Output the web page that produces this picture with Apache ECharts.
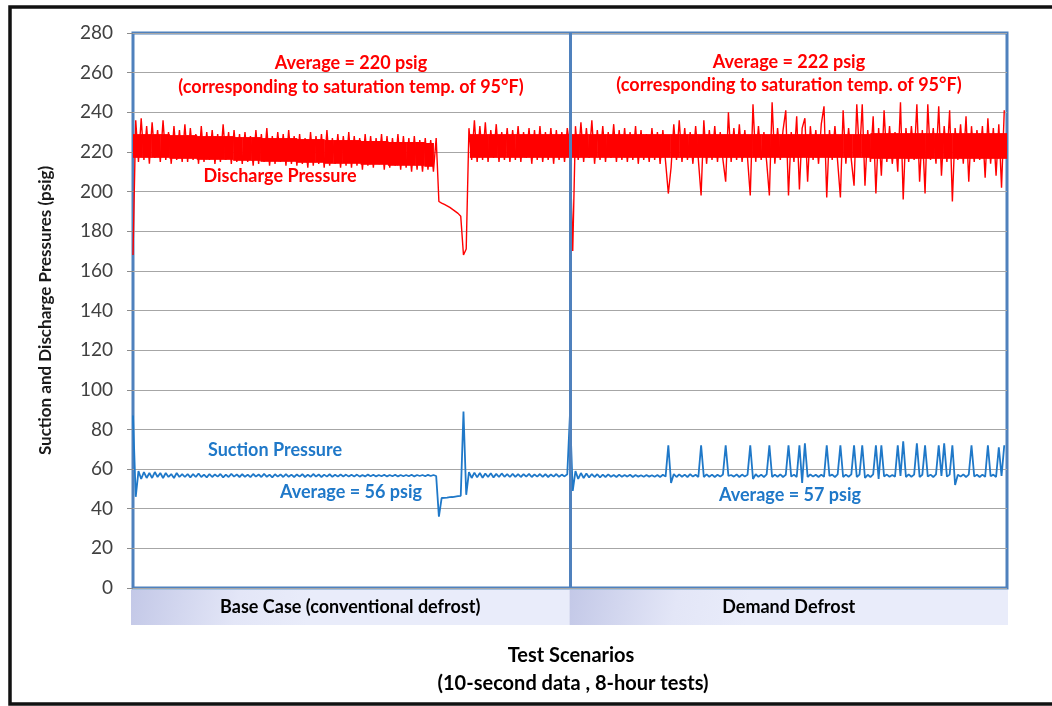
<!DOCTYPE html>
<html>
<head>
<meta charset="utf-8">
<title>Suction and Discharge Pressures</title>
<script src="https://cdn.jsdelivr.net/npm/echarts/dist/echarts.min.js"></script>
<style>
  html, body { margin: 0; padding: 0; background: #fff; }
  #main { width: 1052px; height: 706px; }
</style>
</head>
<body>
<div id="main"></div>
<script>
  // 3-minute samples (20 per hour), 8-hour tests
  const stepsPerHour = 20;
  const coreStepsPerHour = 6; // 10-minute steps for the dense part of the discharge band
  const testHours = 8;
  const scenarios = ['Base Case (conventional defrost)', 'Demand Defrost'];
  const yTicks = [0, 20, 40, 60, 80, 100, 120, 140, 160, 180, 200, 220, 240, 260, 280];

  // discharge pressure, psig
  const baseDischarge = [
    168, 236, 215, 237, 216, 233, 214, 235, 217, 231, 215, 236, 216, 230, 214, 233, 216, 231, 215, 234,
    215, 232, 216, 229, 214, 233, 215, 230, 216, 231, 214, 229, 215, 234, 216, 230, 214, 231, 215, 229,
    214, 230, 215, 228, 213, 231, 214, 229, 215, 232, 213, 228, 214, 230, 215, 229, 213, 231, 214, 228,
    213, 229, 214, 227, 212, 230, 213, 228, 214, 229, 212, 231, 213, 227, 214, 229, 212, 228, 213, 230,
    212, 228, 213, 227, 211, 229, 213, 228, 212, 227, 214, 229, 211, 228, 212, 227, 213, 229, 211, 228,
    212, 227, 210, 228, 211, 226, 210, 227, 211, 226, 210, 227, 195, 194.2, 193.5, 192.8, 192, 191, 190, 189,
    187.5, 168, 171, 232, 216, 236, 215, 233, 216, 235, 215, 231, 217, 234, 215, 230, 216, 232, 215, 231,
    216, 233, 215, 230, 217, 232, 214, 231, 216, 233, 215, 230, 216, 232, 214, 231, 216, 230, 215, 232
  ];
  const demandDischarge = [
    222, 170, 233, 216, 235, 215, 232, 217, 236, 214, 231, 216, 233, 215, 230, 217, 234, 215, 231, 216,
    232, 215, 230, 216, 233, 214, 231, 216, 229, 215, 232, 216, 230, 214, 231, 215, 199, 212, 234, 216,
    236, 215, 232, 216, 230, 214, 233, 216, 198, 236, 214, 231, 216, 233, 215, 230, 216, 205, 240, 215,
    232, 216, 234, 215, 231, 217, 198, 244, 215, 233, 216, 230, 215, 198, 245, 214, 232, 216, 231, 241,
    198, 230, 215, 238, 201, 232, 237, 205, 233, 216, 231, 214, 234, 243, 197, 231, 216, 233, 215, 197,
    241, 214, 232, 216, 203, 244, 218, 244, 203, 231, 215, 238, 199, 232, 208, 241, 215, 233, 214, 230,
    210, 245, 196, 232, 215, 233, 216, 244, 205, 231, 199, 244, 216, 232, 214, 243, 208, 233, 215, 241,
    195, 232, 216, 234, 214, 238, 205, 233, 215, 231, 216, 233, 207, 237, 214, 232, 208, 234, 202, 241
  ];

  // solid middle of the discharge band (10-minute steps), null during the base-case defrost
  const baseCoreLow = [
    217, 217, 217, 217, 216.5, 216.5, 216.5, 216, 216, 216, 216, 215.5, 215.5, 215.5,
    215, 215, 215, 215, 214.5, 214.5, 214.5, 214, 214, 214, 214, 213.5, 213.5, 213.5,
    213, 213, 213, 213, 212.5, null, null, null, null,
    217, 217, 217, 217, 217, 217, 217, 217, 217, 217, 217
  ];
  const baseCoreHigh = [
    229, 229, 229, 229, 228.5, 228.5, 228.5, 228, 228, 228, 228, 227.5, 227.5, 227.5,
    227, 227, 227, 227, 226.5, 226.5, 226.5, 226, 226, 226, 226, 225.5, 225.5, 225.5,
    225, 225, 225, 225, 224.5, null, null, null, null,
    229, 229, 229, 229, 229, 229, 229, 229, 229, 229, 229
  ];
  const demandCoreLow = [
    217, 217, 217, 217, 217, 217, 217, 217, 217, 217, 217, 217, 217, 217, 217, 217, 217,
    217, 217, 217, 217, 217, 217, 217, 217, 217, 217, 217, 217, 217, 217, 217, 217,
    216.5, 216.5, 216.5, 216.5, 216.5, 216.5, 216.5, 216.5, 216.5, 216.5, 216.5, 216.5, 216.5, 216.5, 216.5
  ];
  const demandCoreHigh = [
    229, 229, 229, 229, 229, 229, 229, 229, 229, 229, 229, 229, 229, 229, 229, 229, 229,
    229, 229, 229, 229, 229, 229, 229, 229, 229, 229, 229, 229, 229, 229, 229, 229,
    229.5, 229.5, 229.5, 229.5, 229.5, 229.5, 229.5, 229.5, 229.5, 229.5, 229.5, 229.5, 229.5, 229.5, 229.5
  ];

  // suction pressure, psig
  const baseSuction = [
    87, 46, 59, 55, 58.5, 55.5, 58, 55.5, 58.5, 56, 58, 55.5, 58, 56, 57.5, 55.5, 58, 56, 57.5, 56,
    57.5, 55.8, 57.5, 56, 57.8, 56, 57.2, 55.8, 57.5, 56, 57.3, 56.2, 57.5, 55.8, 57.2, 56, 57.6, 56.2, 57.3, 56,
    57.4, 56.1, 57.2, 55.9, 57.5, 56.2, 57.3, 56, 57.6, 56.1, 57.2, 55.8, 57.4, 56.2, 57.3, 56, 57.5, 56.1, 57.2, 56,
    57.3, 56.2, 57.4, 56, 57.2, 56.1, 57.5, 56.2, 57.3, 56, 57.2, 56.2, 57.4, 56.1, 57.1, 56.2, 57.3, 56.3, 57.2, 56.2,
    57.1, 56.3, 57.2, 56.2, 57, 56.3, 57.2, 56.4, 57.1, 56.3, 57, 56.4, 57.1, 56.3, 57, 56.4, 57.1, 56.3, 57, 56.4,
    57, 56.4, 57.1, 56.3, 57, 56.5, 57, 56.4, 57.1, 56.5, 57, 56.5, 36, 45.4, 45.5, 45.6, 45.8, 45.9, 46.1, 46.3,
    46.5, 89, 47, 58.5, 55.5, 58.2, 55.8, 58, 55.6, 57.8, 56, 57.9, 55.8, 57.6, 56, 57.8, 56.1, 57.5, 56, 57.6,
    56.1, 57.5, 56, 57.4, 56.2, 57.6, 56, 57.3, 56.2, 57.5, 56.1, 57.4, 56, 57.3, 56.2, 57.5, 56.1, 57.2, 56.3, 57.4
  ];
  const demandSuction = [
    88, 49, 59, 55, 58, 55.5, 57.8, 55.8, 57.5, 56, 57.4, 55.8, 57.2, 56, 57.3, 56.1, 57, 56, 57.2, 56.1,
    57, 56.2, 57.1, 56, 57, 56.2, 56.9, 56.1, 57, 56.2, 56.9, 56.1, 57, 56, 57.1, 56.2, 72, 53, 57.5, 56,
    57.3, 56.1, 57.2, 56, 57.4, 56.2, 57.1, 56, 72, 56, 57.3, 56.1, 57.2, 56, 57.1, 56.2, 57.3, 72, 56.5, 57,
    56.2, 57.3, 56, 57.2, 56.3, 57.1, 72, 55, 57.4, 56.1, 57.2, 56, 57.3, 72, 56, 57.2, 56.1, 57.3, 56, 57.1,
    72, 56.2, 57.2, 56, 72, 53, 73, 56, 57.3, 56.2, 57.1, 56, 57.2, 56.1, 72, 56.5, 57.2, 56, 57.3, 72,
    56, 57.2, 56.1, 57.3, 72, 56, 57.2, 72, 55.5, 57.1, 56, 57.3, 72, 55, 72, 56.3, 57.2, 56.1, 57, 56.2,
    72, 56.5, 74, 56, 57.3, 56.1, 57.2, 73, 56, 57.1, 72, 56.2, 57.2, 56, 57.3, 72, 56.5, 73, 56.2, 57.2,
    72, 52, 57.1, 56.2, 57.3, 56, 57.2, 72, 56.3, 57.1, 56, 57.2, 56.1, 72, 56.4, 57.2, 56, 71, 56.5, 72
  ];

  const font = 'Lato, "Open Sans", sans-serif';
  const red = '#ff0000';
  const blue = '#1f78c8';
  const frameBlue = '#4f81bd';

  // one time axis in hours: base test 0-8, demand test 8-16
  function toPoints(base, demand, perHour) {
    return base.map((v, i) => [i / perHour, v])
      .concat(demand.map((v, i) => [testHours + i / perHour, v]));
  }

  const coreHighPts = toPoints(baseCoreHigh, demandCoreHigh, coreStepsPerHour);
  const coreRects = toPoints(baseCoreLow, demandCoreLow, coreStepsPerHour)
    .map((p, i) => [p[0], p[1], coreHighPts[i][1]])
    .filter(d => d[1] != null);

  function note(text, x, y, color, size) {
    return {
      type: 'text', x: x, y: y, silent: true,
      style: {
        text: text, fill: color, font: 'bold ' + (size || 18) + 'px ' + font,
        textAlign: 'center', textVerticalAlign: 'middle'
      }
    };
  }

  let myChart = echarts.init(document.getElementById('main'), null, { renderer: 'canvas' });
  let option = {
    animation: false,
    backgroundColor: '#fff',
    grid: [
      { left: 133, right: 45, top: 33, bottom: 118, show: true, borderColor: frameBlue, borderWidth: 3, backgroundColor: 'transparent' },
      { left: 131, right: 44, top: 590, height: 35 }
    ],
    xAxis: [
      { gridIndex: 0, type: 'value', min: 0, max: testHours * 2, show: false },
      { gridIndex: 1, type: 'category', data: scenarios, show: false, boundaryGap: true }
    ],
    yAxis: [
      {
        gridIndex: 0, type: 'value', min: yTicks[0], max: yTicks[yTicks.length - 1], interval: 20,
        name: 'Suction and Discharge Pressures (psig)',
        nameLocation: 'middle', nameGap: 79,
        nameTextStyle: { fontFamily: font, fontSize: 17, fontWeight: 'bold', color: '#1a1a1a' },
        axisLine: { show: false },
        axisTick: { show: true, length: 6, lineStyle: { color: '#8c8c8c' } },
        axisLabel: { margin: 20, fontFamily: font, fontSize: 19, color: '#404040' },
        splitLine: { lineStyle: { color: '#a6a6a6', width: 1 } }
      },
      { gridIndex: 1, type: 'value', min: 0, max: 1, show: false }
    ],
    series: [
      {
        // dense middle of the noisy discharge trace
        name: 'band core', type: 'custom', xAxisIndex: 0, yAxisIndex: 0, silent: true, clip: true,
        data: coreRects, encode: { x: 0, y: [1, 2] },
        renderItem: function (params, api) {
          const top = api.coord([api.value(0), api.value(2)]);
          const bottom = api.coord([api.value(0), api.value(1)]);
          const w = api.size([1 / coreStepsPerHour, 0])[0];
          return {
            type: 'rect',
            shape: { x: top[0], y: top[1], width: w + 0.5, height: bottom[1] - top[1] },
            style: { fill: red }
          };
        }
      },
      {
        name: 'Discharge Pressure', type: 'line', xAxisIndex: 0, yAxisIndex: 0,
        data: toPoints(baseDischarge, demandDischarge, stepsPerHour),
        showSymbol: false, lineStyle: { color: red, width: 1.4 },
        markLine: {
          silent: true, symbol: 'none', label: { show: false },
          lineStyle: { color: frameBlue, width: 3, type: 'solid' },
          data: [{ xAxis: testHours }]
        }
      },
      {
        name: 'Suction Pressure', type: 'line', xAxisIndex: 0, yAxisIndex: 0,
        data: toPoints(baseSuction, demandSuction, stepsPerHour),
        showSymbol: false, lineStyle: { color: blue, width: 1.8 }
      },
      {
        // scenario band under the plot
        type: 'bar', xAxisIndex: 1, yAxisIndex: 1, silent: true,
        data: scenarios.map(() => 1), barWidth: '100%',
        itemStyle: {
          color: {
            type: 'linear', x: 0, y: 0, x2: 0.4, y2: 1,
            colorStops: [{ offset: 0, color: '#c3c8e7' }, { offset: 0.6, color: '#e3e6f7' }, { offset: 1, color: '#e9ecfa' }]
          }
        },
        label: {
          show: true, position: 'inside', formatter: '{b}',
          fontFamily: font, fontSize: 18, fontWeight: 'bold', color: '#000'
        }
      }
    ],
    graphic: [
      { type: 'rect', silent: true, shape: { x: 10, y: 7, width: 1100, height: 697 }, style: { fill: 'none', stroke: '#111', lineWidth: 3.5 } },
      note('Average = 220 psig', 351, 63, red),
      note('(corresponding to saturation temp. of 95°F)', 351, 87, red),
      note('Average = 222 psig', 789, 62, red),
      note('(corresponding to saturation temp. of 95°F)', 789, 85, red),
      note('Discharge Pressure', 280, 176, red),
      note('Suction Pressure', 275, 450, blue),
      note('Average = 56 psig', 351, 492, blue),
      note('Average = 57 psig', 790, 495, blue),
      note('Test Scenarios', 571, 656, '#000', 20),
      note('(10-second data , 8-hour tests)', 573, 684, '#000', 20)
    ]
  };
  myChart.setOption(option);
  window.onresize = myChart.resize;
</script>
</body>
</html>
